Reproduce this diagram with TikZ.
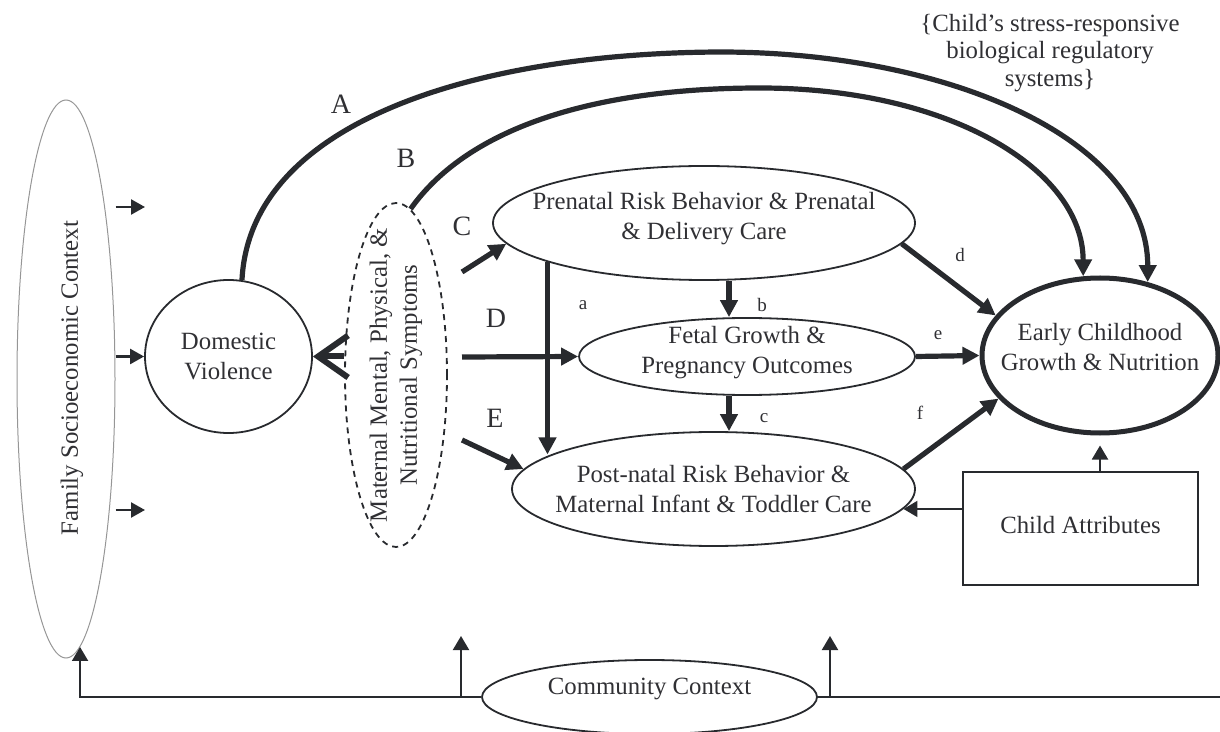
\documentclass[tikz,border=0pt]{standalone}
\usepackage{fontspec}
\setmainfont{Liberation Serif}
\usetikzlibrary{
  shapes.geometric,
  arrows.meta
}
\definecolor{linecolor}{RGB}{40, 42, 46}
\definecolor{labelcolor}{RGB}{48, 48, 52}
\definecolor{contextcolor}{RGB}{150, 150, 150}
\tikzset{
blocktext/.style={
  align=center,
  text=labelcolor,
  font=\fontsize{12.4}{15}\selectfont
},
oval/.style={
  ellipse,
  draw=linecolor,
  line width=0.9pt,
  inner sep=0pt
},
attrbox/.style={
  rectangle,
  draw=linecolor,
  line width=0.9pt,
  minimum width=117.5pt,
  minimum height=56.5pt,
  blocktext
},
pathletter/.style={
  font=\fontsize{14}{16}\selectfont,
  text=labelcolor
},
smallletter/.style={
  font=\fontsize{9.5}{11}\selectfont,
  text=labelcolor
}
}

\begin{document}
\begin{tikzpicture}[
    x=0.5pt, y=-0.5pt,
    mainarrow/.style={-{Triangle[length=8.5pt, width=8.5pt]}, line width=2.6pt, draw=linecolor},
    thinarrow/.style={-{Triangle[length=7pt, width=8pt]}, line width=1pt, draw=linecolor},
    famarrow/.style={-{Triangle[length=7pt, width=7.5pt]}, line width=1.2pt, draw=linecolor},
    barbarrow/.style={-{Straight Barb[length=15pt, width=21pt]}, line width=3pt, draw=linecolor},
    thinline/.style={line width=1pt, draw=linecolor},
  ]
  \useasboundingbox (0,0) rectangle (1220,732);

  % Context ovals
  \node[oval, draw=contextcolor, line width=0.5pt, minimum width=49pt, minimum height=279pt] (fam) at (66,379) {};
  \node[blocktext, rotate=90] at (72,378) {Family Socioeconomic Context};
  \node[oval, minimum width=167.5pt, minimum height=37pt,
    label={[blocktext, yshift=4pt]center:Community Context}] (comm) at (649.5,697) {};

  % Main constructs
  \node[oval, minimum width=83.5pt, minimum height=76.5pt,
    label={[blocktext]center:{Domestic\\Violence}}] (dv) at (228.5,356.5) {};
  \node[oval, dashed, dash pattern=on 3pt off 2.5pt, minimum width=51pt, minimum height=172pt] (mat) at (396,375) {};
  \node[blocktext, rotate=90] at (mat) {Maternal Mental, Physical, \&\\Nutritional Symptoms};
  \node[oval, minimum width=211pt, minimum height=57pt,
    label={[blocktext, yshift=2pt]center:{Prenatal Risk Behavior \& Prenatal\\\& Delivery Care}}] (pre) at (704,223) {};
  \node[oval, minimum width=168pt, minimum height=38.5pt,
    label={[blocktext, yshift=2pt]center:{Fetal Growth \&\\Pregnancy Outcomes}}] (fet) at (747,356.5) {};
  \node[oval, minimum width=201.5pt, minimum height=57pt,
    label={[blocktext]center:{Post-natal Risk Behavior \&\\Maternal Infant \& Toddler Care}}] (post) at (713.5,489) {};
  \node[oval, line width=2.5pt, minimum width=118pt, minimum height=77.5pt,
    label={[blocktext, yshift=4pt]center:{Early Childhood\\Growth \& Nutrition}}] (ecg) at (1100,355.5) {};
  \node[attrbox] (ca) at (1080.5,528.5) {\raisebox{4pt}{Child Attributes}};
  \node[blocktext, font=\fontsize{12.4}{13.75}\selectfont] (note) at (1050,53)
    {\{Child's stress-responsive\\biological regulatory\\systems\}};

  % Pathways A and B
  \draw[mainarrow] (dv.80) .. controls (250,120) and (480,53) .. (720,52)
    .. controls (950,52) and (1148,140) .. (ecg.57);
  \draw[mainarrow] (mat.85) .. controls (470,125) and (600,88) .. (760,88)
    .. controls (950,88) and (1083,170) .. (ecg.102);
  \draw[barbarrow] (mat.west |- dv.east) -- (dv.east);

  % Family context arrows
  \coordinate (f1) at (145,207);
  \coordinate (f3) at (145,510);
  \draw[famarrow] (fam.east |- f1) -- (f1);
  \draw[famarrow] (fam.east |- dv.west) -- (dv.west);
  \draw[famarrow] (fam.east |- f3) -- (f3);

  % Pathways C, D, E
  \coordinate (cS) at (462,272);
  \coordinate (dS) at (462,357);
  \coordinate (eS) at (462,440);
  \draw[mainarrow] (cS) -- (pre.186);
  \draw[mainarrow] (dS) -- (fet.west);
  \draw[mainarrow] (eS) -- (post.174);

  % Paths a to f
  \coordinate (mid) at (729,0);
  \draw[mainarrow] (pre.194.6) -- (pre.194.6 |- post.168);
  \draw[mainarrow] (pre.south -| mid) -- (fet.north -| mid);
  \draw[mainarrow] (fet.south -| mid) -- (post.north -| mid);
  \draw[mainarrow] (pre.-6.5) -- (ecg.159.5);
  \draw[mainarrow] (fet.east) -- (ecg.west);
  \draw[mainarrow] (post.6.4) -- (ecg.203);

  % Child attributes
  \draw[thinarrow] (ca.north -| ecg.south) -- ([yshift=-5pt]ecg.south);
  \draw[thinarrow] (ca.west |- post.-6) -- (post.-6);

  % Community context
  \coordinate (up1) at (461,636);
  \coordinate (up2) at (830,636);
  \coordinate (rend) at (1220,697);
  \draw[thinarrow] (comm.west) -| (fam.-87);
  \draw[thinarrow] (comm.west -| up1) -- (up1);
  \draw[thinarrow] (comm.east -| up2) -- (up2);
  \draw[thinline] (comm.east) -- (rend);

  % Path letters
  \node[pathletter] (labA) at (341,104) {A};
  \node[pathletter] (labB) at (406,158) {B};
  \node[pathletter] (labC) at (462,226) {C};
  \node[pathletter] (labD) at (496,318) {D};
  \node[pathletter] (labE) at (495,418) {E};
  \node[smallletter] (laba) at (583,305) {a};
  \node[smallletter] (labb) at (762,305) {b};
  \node[smallletter] (labc) at (764,418) {c};
  \node[smallletter] (labd) at (960,255) {d};
  \node[smallletter] (labe) at (938,335) {e};
  \node[smallletter] (labf) at (920,413) {f};
\end{tikzpicture}
\end{document}
